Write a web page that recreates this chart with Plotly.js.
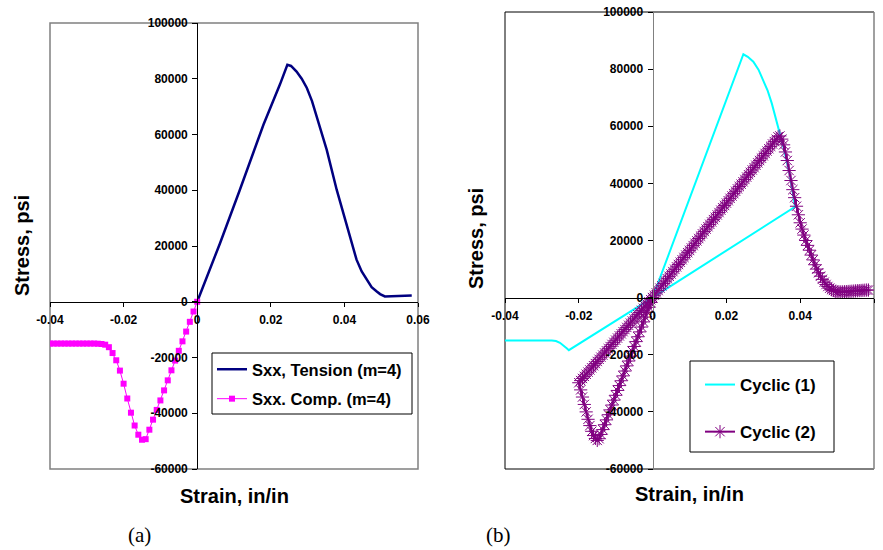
<!DOCTYPE html>
<html>
<head>
<meta charset="utf-8">
<script src="https://cdn.plot.ly/plotly-3.0.1.min.js"></script>
<style>html,body{margin:0;padding:0;background:#fff;}#chart{width:883px;height:550px;}</style>
</head>
<body>
<div id="chart"></div>
<script>
// ---------- Data (a) ----------
const tensionX = [0, 0.0062, 0.0116, 0.018, 0.0225, 0.0245, 0.0255, 0.027, 0.0284, 0.0298, 0.0312, 0.0325, 0.0352, 0.0379, 0.0393, 0.0406, 0.042, 0.0433, 0.0447, 0.0461, 0.0474, 0.0488, 0.0497, 0.051, 0.0583];
const tensionY = [0, 21000, 40200, 63500, 78000, 85000, 84600, 82600, 80000, 76700, 72000, 66500, 54500, 40200, 33600, 27000, 20450, 15100, 10870, 7900, 5260, 3700, 2750, 1900, 2270];

const compX = [0, -0.001, -0.002, -0.003, -0.004, -0.005, -0.006, -0.007, -0.008, -0.009, -0.010, -0.011, -0.012, -0.013, -0.014, -0.015, -0.016, -0.017, -0.018, -0.019, -0.020, -0.021, -0.022, -0.023, -0.024, -0.025, -0.026, -0.027, -0.028, -0.029, -0.030, -0.031, -0.032, -0.033, -0.034, -0.035, -0.036, -0.037, -0.038, -0.039, -0.040];
const compY = [0, -3500, -7200, -10700, -14200, -17600, -21100, -24600, -28200, -31800, -35400, -38800, -42300, -45900, -49300, -49500, -47700, -44400, -39800, -34700, -29400, -24700, -21000, -18400, -16300, -15400, -15150, -15050, -15000, -15000, -15000, -15000, -15000, -15000, -15000, -15000, -15000, -15000, -15000, -15000, -15000];

// ---------- Data (b) ----------
const cyc1X = [0, 0.0246, 0.0258, 0.0273, 0.0287, 0.0300, 0.0312, 0.0323, 0.0341, 0.0355, 0.0372, 0.0386, 0, -0.0227, -0.0232, -0.0237, -0.0251, -0.0262, -0.0273, -0.040];
const cyc1Y = [0, 85200, 84300, 82600, 79800, 76200, 72400, 68000, 59800, 52500, 43000, 31800, 0, -18400, -17800, -17200, -15800, -15200, -15000, -15000];

// Cyclic (2): compression loading branch
const cyc2CompX = [0, -0.0005, -0.001, -0.0015, -0.002, -0.0025, -0.003, -0.0035, -0.004, -0.0045, -0.005, -0.0055, -0.006, -0.0065, -0.007, -0.0075, -0.008, -0.0085, -0.009, -0.0095, -0.010, -0.0105, -0.011, -0.0115, -0.012, -0.0125, -0.013, -0.0135, -0.014, -0.0145, -0.015];
const cyc2CompY = [0, -1700, -3400, -5100, -6800, -8500, -10300, -12000, -13700, -15400, -17100, -18800, -20500, -22200, -23900, -25700, -27400, -29100, -30800, -32500, -34200, -35900, -37600, -39300, -41000, -42800, -44500, -46200, -47900, -49400, -50000];
// compression softening branch
const cyc2SoftCX = [-0.0155, -0.016, -0.0165, -0.017, -0.0175, -0.018, -0.0185, -0.019, -0.0195, -0.020];
const cyc2SoftCY = [-49300, -48300, -46800, -44800, -42600, -40000, -37400, -34800, -32300, -29800];
// unloading / reloading branch
const cyc2ReloadX = [-0.0195, -0.019, -0.0185, -0.018, -0.0175, -0.017, -0.0165, -0.016, -0.0155, -0.015, -0.0145, -0.014, -0.0135, -0.013, -0.0125, -0.012, -0.0115, -0.011, -0.0105, -0.010, -0.0095, -0.009, -0.0085, -0.008, -0.0075, -0.007, -0.0065, -0.006, -0.0055, -0.005, -0.0045, -0.004, -0.0035, -0.003, -0.0025, -0.002, -0.0015, -0.001, -0.0005, 0,
  0.0005, 0.001, 0.0015, 0.002, 0.0025, 0.003, 0.0035, 0.004, 0.0045, 0.005, 0.0055, 0.006, 0.0065, 0.007, 0.0075, 0.008, 0.0085, 0.009, 0.0095, 0.010, 0.0105, 0.011, 0.0115, 0.012, 0.0125, 0.013, 0.0135, 0.014, 0.0145, 0.015, 0.0155, 0.016, 0.0165, 0.017, 0.0175, 0.018, 0.0185, 0.019, 0.0195, 0.020, 0.0205, 0.021, 0.0215, 0.022, 0.0225, 0.023, 0.0235, 0.024, 0.0245, 0.025, 0.0255, 0.026, 0.0265, 0.027, 0.0275, 0.028, 0.0285, 0.029, 0.0295, 0.030, 0.0305, 0.031, 0.0315, 0.032, 0.0325, 0.033, 0.0335, 0.034, 0.0345];
const cyc2ReloadY = [-29050, -28300, -27570, -26820, -26080, -25330, -24590, -23840, -23100, -22350, -21600, -20860, -20120, -19370, -18630, -17880, -17140, -16390, -15650, -14900, -14160, -13410, -12670, -11920, -11180, -10430, -9690, -8940, -8200, -7450, -6710, -5960, -5220, -4470, -3730, -2980, -2240, -1490, -750, 0,
  830, 1660, 2480, 3310, 4140, 4970, 5790, 6620, 7450, 8280, 9100, 9930, 10760, 11590, 12410, 13240, 14070, 14900, 15720, 16550, 17380, 18210, 19030, 19860, 20690, 21520, 22340, 23170, 24000, 24830, 25650, 26480, 27310, 28140, 28960, 29790, 30620, 31450, 32270, 33100, 33930, 34760, 35580, 36410, 37240, 38070, 38890, 39720, 40550, 41380, 42200, 43030, 43860, 44690, 45510, 46340, 47170, 48000, 48820, 49650, 50480, 51310, 52130, 52960, 53790, 54620, 55440, 56270, 56600];
// tension softening branch
const cyc2SoftTX = [0.035, 0.0355, 0.036, 0.0365, 0.037, 0.0375, 0.038, 0.0385, 0.039, 0.0395, 0.040, 0.0405, 0.041, 0.0415, 0.042, 0.0425, 0.043, 0.0435, 0.044, 0.0445, 0.045, 0.0455, 0.046, 0.0465, 0.047, 0.0475, 0.048, 0.0485, 0.049, 0.0495, 0.050, 0.0505, 0.051, 0.0515, 0.052, 0.0525, 0.053, 0.0535, 0.054, 0.0545, 0.055, 0.0555, 0.056, 0.0565, 0.057, 0.0575, 0.058, 0.0585];
const cyc2SoftTY = [55500, 53500, 51000, 48000, 44500, 41000, 37800, 35000, 32000, 29000, 26200, 24000, 21900, 20000, 18300, 16600, 14900, 13200, 11500, 10000, 8700, 7500, 6400, 5400, 4600, 3900, 3300, 2800, 2500, 2200, 2050, 2000, 2000, 2000, 2050, 2100, 2150, 2200, 2250, 2300, 2350, 2400, 2450, 2500, 2550, 2600, 2650, 2650];

// ---------- Ticks ----------
const xTickVals = [-0.04, -0.02, 0, 0.02, 0.04, 0.06];
const xTickText = ['-0.04', '-0.02', '0', '0.02', '0.04', '0.06'];
const yTickVals = [-60000, -40000, -20000, 0, 20000, 40000, 60000, 80000, 100000];
const yTickText = ['-60000', '-40000', '-20000', '0', '20000', '40000', '60000', '80000', '100000'];

const cyc2X = cyc2CompX.concat(cyc2SoftCX, cyc2ReloadX, cyc2SoftTX);
const cyc2Y = cyc2CompY.concat(cyc2SoftCY, cyc2ReloadY, cyc2SoftTY);

// ---------- Layout geometry (pixels -> paper) ----------
const W = 883, H = 550;
const fx = p => p / W;
const fy = p => 1 - p / H;

const A = {l: 50, r: 418, t: 23, b: 469};
const B = {l: 505, r: 874, t: 12, b: 469};
const zeroX = g => g.l + (g.r - g.l) * 0.4;
const zeroY = g => g.t + (g.b - g.t) * (100000 / 160000);

const SANS = 'Liberation Sans, Arial, sans-serif';
const tickFont = {family: SANS, size: 12, color: '#000'};
const bold = s => '<b>' + s + '</b>';

function xAxis(g) {
  return {domain: [fx(g.l), fx(g.r)], range: [-0.04, 0.06], anchor: 'free', position: fy(zeroY(g)),
    showline: true, linecolor: '#000', linewidth: 1, ticks: 'outside', ticklen: 4, tickcolor: '#000', tickwidth: 1,
    tickvals: xTickVals, ticktext: xTickText.map(bold), tickfont: tickFont, ticklabelstandoff: 3,
    showgrid: false, zeroline: false, fixedrange: true};
}
function yAxis(g, lc) {
  return {domain: [fy(g.b), fy(g.t)], range: [-60000, 100000], anchor: 'free', position: fx(zeroX(g)),
    showline: true, linecolor: lc, linewidth: 1, ticks: 'outside', ticklen: 5, tickcolor: '#000', tickwidth: 1,
    tickvals: yTickVals, ticktext: yTickText.map(bold), tickfont: tickFont, ticklabelstandoff: 2,
    showgrid: false, zeroline: false, fixedrange: true};
}

const traces = [
  {x: tensionX, y: tensionY, xaxis: 'x', yaxis: 'y', mode: 'lines', name: bold('Sxx, Tension (m=4)'),
   line: {color: '#000080', width: 2.5}, legend: 'legend', legendgroup: 'a1'},
  {x: compX, y: compY, xaxis: 'x', yaxis: 'y', mode: 'lines+markers', name: bold('Sxx. Comp. (m=4)'),
   line: {color: '#FF00FF', width: 1}, marker: {symbol: 'square', size: 6, color: '#FF00FF'}, legend: 'legend', legendgroup: 'a2'},
  {x: cyc1X, y: cyc1Y, xaxis: 'x2', yaxis: 'y2', mode: 'lines', name: bold('Cyclic (1)'),
   line: {color: '#00FFFF', width: 2}, legend: 'legend2', legendgroup: 'b1'},
  {x: cyc2X, y: cyc2Y, xaxis: 'x2', yaxis: 'y2', mode: 'lines+markers', name: bold('Cyclic (2)'),
   line: {color: '#800080', width: 2}, marker: {symbol: 'asterisk-open', size: 11, color: '#800080', line: {color: '#800080', width: 1}},
   legend: 'legend2', legendgroup: 'b2'}
];

const gray = '#808080';
const shapes = [
  {type: 'rect', xref: 'paper', yref: 'paper', x0: fx(A.l), x1: fx(A.r), y0: fy(A.b), y1: fy(A.t), line: {color: gray, width: 1.5}, layer: 'below'},
  {type: 'line', xref: 'paper', yref: 'paper', x0: fx(B.l), x1: fx(B.r), y0: fy(B.t), y1: fy(B.t), line: {color: '#000', width: 1}, layer: 'below'},
  {type: 'line', xref: 'paper', yref: 'paper', x0: fx(B.l), x1: fx(B.l), y0: fy(B.b), y1: fy(B.t), line: {color: '#000', width: 1}, layer: 'below'},
  {type: 'line', xref: 'paper', yref: 'paper', x0: fx(B.l), x1: fx(B.r), y0: fy(B.b), y1: fy(B.b), line: {color: '#000', width: 1}, layer: 'below'},
  {type: 'line', xref: 'paper', yref: 'paper', x0: fx(B.r), x1: fx(B.r), y0: fy(B.b), y1: fy(B.t), line: {color: gray, width: 1.5}, layer: 'below'},
  {type: 'rect', xref: 'paper', yref: 'paper', x0: fx(212), x1: fx(412), y0: fy(414), y1: fy(353), line: {color: '#000', width: 1}, fillcolor: '#fff', layer: 'above'},
  {type: 'rect', xref: 'paper', yref: 'paper', x0: fx(690), x1: fx(834), y0: fy(452), y1: fy(361), line: {color: '#000', width: 1}, fillcolor: '#fff', layer: 'above'}
];

const titleFont = {family: SANS, size: 20, color: '#000'};
const serifFont = {family: 'Liberation Serif, Times New Roman, serif', size: 21, color: '#000'};
const ann = (x, y, text, font, rot) => ({xref: 'paper', yref: 'paper', x: fx(x), y: fy(y), text: text, showarrow: false,
  font: font, textangle: rot || 0, xanchor: 'center', yanchor: 'middle'});

const annotations = [
  ann(22, 246, bold('Stress, psi'), titleFont, -90),
  ann(476, 239, bold('Stress, psi'), titleFont, -90),
  ann(234, 496, bold('Strain, in/in'), titleFont),
  ann(689, 494, bold('Strain, in/in'), titleFont),
  ann(139, 535, '(a)', serifFont),
  ann(498, 535, '(b)', serifFont)
];

const layout = {
  width: W, height: H, margin: {l: 0, r: 0, t: 0, b: 0, pad: 0},
  paper_bgcolor: '#fff', plot_bgcolor: 'rgba(0,0,0,0)',
  xaxis: xAxis(A), yaxis: yAxis(A, '#000'),
  xaxis2: xAxis(B), yaxis2: yAxis(B, gray),
  showlegend: true,
  legend: {x: fx(212), y: fy(352), xanchor: 'left', yanchor: 'top', bgcolor: 'rgba(0,0,0,0)', borderwidth: 0,
    font: {family: SANS, size: 16.5, color: '#000'}, traceorder: 'grouped', tracegroupgap: 5},
  legend2: {x: fx(700), y: fy(367), xanchor: 'left', yanchor: 'top', bgcolor: 'rgba(0,0,0,0)', borderwidth: 0,
    font: {family: SANS, size: 17, color: '#000'}, traceorder: 'grouped', tracegroupgap: 22},
  shapes: shapes,
  annotations: annotations
};

Plotly.newPlot('chart', traces, layout, {displayModeBar: false, staticPlot: true});
</script>
</body>
</html>
